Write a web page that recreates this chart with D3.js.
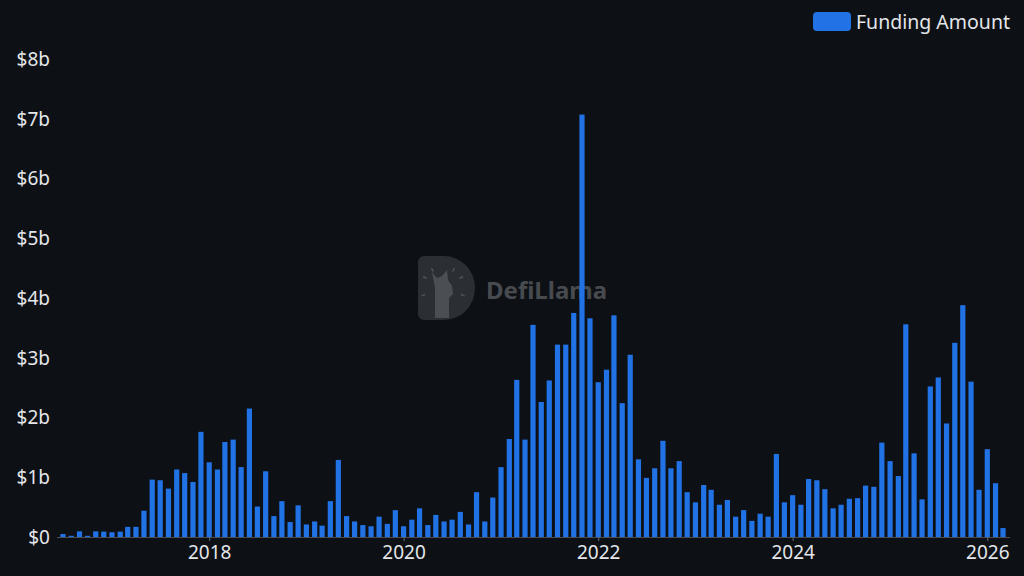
<!DOCTYPE html>
<html>
<head>
<meta charset="utf-8">
<script src="https://cdn.jsdelivr.net/npm/d3@7"></script>
<style>
  html, body { margin: 0; padding: 0; background: #0d1015; }
  #chart { width: 1024px; height: 576px; }
</style>
</head>
<body>
<div id="chart"></div>
<script>
// monthly funding, Jul 2016 .. Mar 2026, in $ billions
const startMonth = '2016-07';
const fundingAmount = [
    0.05, 0.02, 0.095, 0.02, 0.095, 0.09,                          // 2016 H2
    0.08, 0.09, 0.17, 0.17, 0.44, 0.96, 0.95, 0.81, 1.13, 1.07, 0.92, 1.76, // 2017
    1.25, 1.13, 1.59, 1.63, 1.17, 2.15, 0.51, 1.10, 0.35, 0.60, 0.25, 0.53, // 2018
    0.21, 0.26, 0.19, 0.60, 1.29, 0.35, 0.26, 0.20, 0.18, 0.34, 0.22, 0.45, // 2019
    0.18, 0.29, 0.48, 0.20, 0.37, 0.26, 0.29, 0.42, 0.21, 0.75, 0.26, 0.66, // 2020
    1.17, 1.64, 2.63, 1.63, 3.55, 2.26, 2.62, 3.22, 3.22, 3.75, 7.07, 3.66, // 2021
    2.59, 2.80, 3.71, 2.24, 3.05, 1.30, 0.99, 1.15, 1.61, 1.15, 1.27, 0.75, // 2022
    0.58, 0.87, 0.79, 0.54, 0.62, 0.34, 0.45, 0.27, 0.39, 0.34, 1.39, 0.58, // 2023
    0.70, 0.54, 0.97, 0.95, 0.80, 0.48, 0.54, 0.64, 0.65, 0.86, 0.84, 1.58, // 2024
    1.27, 1.02, 3.56, 1.40, 0.63, 2.52, 2.67, 1.90, 3.25, 3.88, 2.60, 0.79, // 2025
    1.47, 0.90, 0.15                                                  // 2026
];
const yTicks = [0, 1, 2, 3, 4, 5, 6, 7, 8];
const xTickYears = [2018, 2020, 2022, 2024, 2026];
const seriesName = 'Funding Amount';

const width = 1024, height = 576;
const barColor = '#2172e5';
const textColor = '#e4e6ea';
const fontFamily = '"Noto Sans", "Open Sans", sans-serif';

const parseMonth = d3.utcParse('%Y-%m');
const firstMonth = parseMonth(startMonth);
const data = fundingAmount.map((v, i) => ({
    date: d3.utcMonth.offset(firstMonth, i),
    value: v
}));

const svg = d3.select('#chart')
    .append('svg')
    .attr('width', width)
    .attr('height', height)
    .style('font-family', fontFamily);

svg.append('rect')
    .attr('width', width)
    .attr('height', height)
    .attr('fill', '#0d1015');

const x = d3.scaleUtc()
    .domain([data[0].date, data[data.length - 1].date])
    .range([63, 1003]);

const y = d3.scaleLinear()
    .domain([0, 8])
    .range([537, 59]);

// watermark sits behind the bars
const wm = svg.append('g')
    .attr('transform', 'translate(418,256)')
    .attr('opacity', 0.6);
wm.append('path')
    .attr('d', 'M6,0 H26 A31,32 0 0 1 26,64 H6 A6,6 0 0 1 0,58 V6 A6,6 0 0 1 6,0 Z')
    .attr('fill', '#3f4247');
// clock marks round the llama
wm.append('g')
    .selectAll('line')
    .data([-150, -120, -60, -30, 20, 160])
    .enter()
    .append('line')
    .attr('x1', d => 25 + 19 * Math.cos(d * Math.PI / 180))
    .attr('y1', d => 32 + 19 * Math.sin(d * Math.PI / 180))
    .attr('x2', d => 25 + 23 * Math.cos(d * Math.PI / 180))
    .attr('y2', d => 32 + 23 * Math.sin(d * Math.PI / 180))
    .attr('stroke', '#7a7d82')
    .attr('stroke-width', 1.5);
wm.append('path')
    .attr('d', 'M17,62 V32 L14,16 L19,22 L24,20 L29,14 L30,24 L34,30 L35,38 L31,42 L31,62 Z')
    .attr('fill', '#75787d');
wm.append('text')
    .attr('x', 68)
    .attr('y', 43)
    .attr('fill', '#6f7277')
    .style('font-size', '24px')
    .style('font-weight', 700)
    .text('DefiLlama');

// y axis labels
svg.append('g')
    .selectAll('text')
    .data(yTicks)
    .enter()
    .append('text')
    .attr('x', 50)
    .attr('y', d => y(d))
    .attr('dy', '0.36em')
    .attr('text-anchor', 'end')
    .attr('fill', textColor)
    .style('font-size', '19px')
    .text(d => '$' + d + (d === 0 ? '' : 'b'));

// x axis
const xAxis = svg.append('g')
    .attr('transform', `translate(0,${y(0)})`)
    .call(d3.axisBottom(x)
        .tickValues(xTickYears.map(yr => new Date(Date.UTC(yr, 0, 1))))
        .tickFormat(d3.utcFormat('%Y'))
        .tickSize(4)
        .tickPadding(5));
xAxis.select('.domain')
    .attr('d', 'M57,0.5H1010')
    .attr('stroke', '#4a4e55');
xAxis.selectAll('.tick line').attr('stroke', '#6a6e75');
xAxis.selectAll('.tick text')
    .attr('fill', textColor)
    .style('font-size', '19px')
    .style('font-family', fontFamily);

// bars
svg.append('g')
    .selectAll('rect')
    .data(data)
    .enter()
    .append('rect')
    .attr('x', d => x(d.date) - 2.6)
    .attr('y', d => y(d.value))
    .attr('width', 5.2)
    .attr('height', d => y(0) - y(d.value))
    .attr('fill', barColor);

// legend
const legend = svg.append('g').attr('transform', 'translate(813,12)');
legend.append('rect')
    .attr('width', 38)
    .attr('height', 19)
    .attr('rx', 4)
    .attr('fill', barColor);
legend.append('text')
    .attr('x', 43)
    .attr('y', 9.5)
    .attr('dy', '0.36em')
    .attr('fill', textColor)
    .style('font-size', '19.5px')
    .text(seriesName);
</script>
</body>
</html>
